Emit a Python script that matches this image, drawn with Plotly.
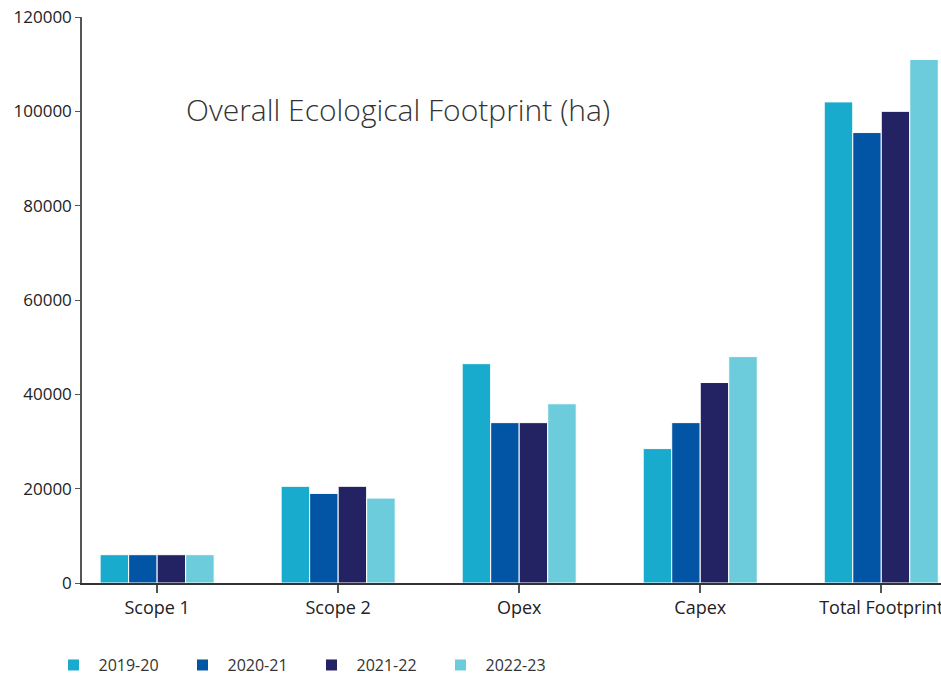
import plotly.graph_objects as go

categories = ["Scope 1", "Scope 2", "Opex", "Capex", "Total Footprint"]
series_names = ["2019-20", "2020-21", "2021-22", "2022-23"]
v_2019_20 = [6000, 20500, 46500, 28500, 102000]
v_2020_21 = [6000, 19000, 34000, 34000, 95500]
v_2021_22 = [6000, 20500, 34000, 42500, 100000]
v_2022_23 = [6000, 18000, 38000, 48000, 111000]
colors = ["#18ABCD", "#0255A5", "#232262", "#6CCCDC"]
y_ticks = [0, 20000, 40000, 60000, 80000, 100000, 120000]

fig = go.Figure()
for name, vals, col in zip(series_names, [v_2019_20, v_2020_21, v_2021_22, v_2022_23], colors):
    fig.add_trace(go.Bar(x=categories, y=vals, name=name,
                         marker=dict(color=col, line=dict(color="white", width=1))))

FONT = "Open Sans, Lato, sans-serif"
fig.update_layout(
    width=941, height=678,
    margin=dict(l=82, r=0, t=17, b=95, autoexpand=False),
    paper_bgcolor="white", plot_bgcolor="white",
    barmode="group", bargap=0.37, bargroupgap=0.0,
    font=dict(family=FONT, color="#222222", size=16),
    showlegend=True,
    legend=dict(orientation="h", x=-0.039, xanchor="left", y=-0.145, yanchor="middle",
                font=dict(size=16, color="#333333"), itemwidth=40,
                entrywidth=74, entrywidthmode="pixels",
                tracegroupgap=0, traceorder="normal"),
    xaxis=dict(range=[-0.415, 4.33], showline=True, linecolor="#333333", linewidth=1.5,
               ticks="outside", ticklen=8, tickcolor="#555555", tickwidth=1.5,
               showgrid=False, automargin=False, tickfont=dict(size=18, color="#222222")),
    yaxis=dict(range=[0, 120000], tickvals=y_ticks, showline=True, linecolor="#555555",
               linewidth=1.5, ticks="outside", ticklen=5, tickcolor="#555555",
               showgrid=False, zeroline=False, automargin=False,
               tickfont=dict(size=17, color="#222222"), tickformat="d"),
    annotations=[dict(text="Overall Ecological Footprint (ha)", xref="paper", yref="paper",
                      x=0.119, y=0.836, xanchor="left", yanchor="middle", showarrow=False,
                      font=dict(size=30, color="#333333", family=FONT, weight=300))],
)

fig.write_html("out.html", config={"displayModeBar": False},
               post_script="document.body.style.margin='0';document.body.style.padding='0';")
